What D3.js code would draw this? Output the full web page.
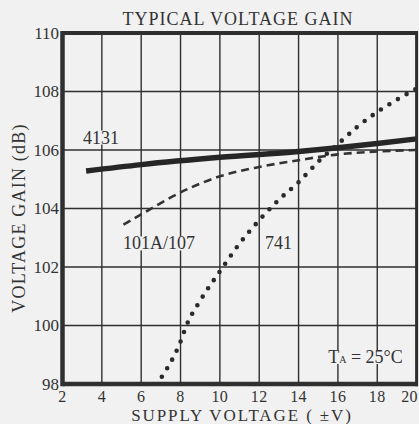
<!DOCTYPE html>
<html><head><meta charset="utf-8">
<script src="https://cdn.jsdelivr.net/npm/d3@7"></script>
<style>
html,body{margin:0;padding:0;background:#f1f1f1;}
svg{display:block;}
text{font-family:"Liberation Serif","DejaVu Serif",serif;fill:#333;}
</style></head>
<body>
<script>
const xTicks = [2,4,6,8,10,12,14,16,18,20];
const yTicks = [98,100,102,104,106,108,110];
const s4131 = [[3.2,105.28],[6,105.5],[10,105.75],[14,105.95],[16,106.08],[18,106.22],[20,106.38]];
const s101A = [[5.1,103.45],[6,103.8],[8,104.55],[10,105.1],[12,105.42],[14,105.65],[16,105.85],[18,105.95],[20,106.0]];
const s741 = [[7.05,98.25],[8,99.45],[8.3,100],[9,100.85],[10,101.85],[11,102.8],[12,103.6],[13,104.3],[14,104.9],[15,105.6],[16,106.2],[17,106.8],[18,107.3],[19,107.72],[20,108.1]];
const labels = [{t:"4131",x:3.04,y:106.22},{t:"101A/107",x:5.08,y:102.6},{t:"741",x:12.3,y:102.6}];

const W=419,H=424;
const svg=d3.select("body").append("svg").attr("width",W).attr("height",H);
const x=d3.scaleLinear().domain([2,20]).range([62.5,416.6]);
const y=d3.scaleLinear().domain([98,110]).range([384,33]);
const col="#2f2f2f";

// grid
svg.append("g").selectAll("line").data(xTicks.slice(1,-1)).join("line")
  .attr("x1",d=>x(d)).attr("x2",d=>x(d)).attr("y1",y(110)).attr("y2",y(98))
  .attr("stroke",col).attr("stroke-width",1.4);
svg.append("g").selectAll("line").data(yTicks.slice(1,-1)).join("line")
  .attr("x1",x(2)).attr("x2",x(20)).attr("y1",d=>y(d)).attr("y2",d=>y(d))
  .attr("stroke",col).attr("stroke-width",1.4);

// label boxes (mask grid)
const bg="#f1f1f1";
const TA = svg.append("text").attr("x",x(19.3)).attr("y",363).attr("text-anchor","end").attr("font-size",18);
TA.append("tspan").text("T");
TA.append("tspan").attr("font-size",10).text("A");
TA.append("tspan").text(" = 25°C");
const bb=TA.node().getBBox();
svg.insert("rect","text").attr("x",bb.x-2).attr("y",bb.y+3).attr("width",bb.width+4).attr("height",bb.height-6).attr("fill",bg);

labels.forEach(l=>{
  const t=svg.append("text").attr("x",x(l.x)).attr("y",y(l.y)).attr("font-size",18).text(l.t);
  const b=t.node().getBBox();
  svg.insert("rect","text").attr("x",b.x-1).attr("y",b.y+3).attr("width",b.width+2).attr("height",b.height-6).attr("fill",bg);
});

// curves
const line=d3.line().x(d=>x(d[0])).y(d=>y(d[1])).curve(d3.curveMonotoneX);
svg.append("path").attr("d",line(s4131)).attr("fill","none").attr("stroke","#262626").attr("stroke-width",5.5);
svg.append("path").attr("d",line(s101A)).attr("fill","none").attr("stroke","#333").attr("stroke-width",2.6).attr("stroke-dasharray","8,5");
svg.append("path").attr("d",line(s741)).attr("fill","none").attr("stroke","#2a2a2a").attr("stroke-width",4.6).attr("stroke-linecap","round").attr("stroke-dasharray","0,10");

// frame
svg.append("line").attr("x1",x(2)).attr("x2",x(20)+1).attr("y1",y(110)).attr("y2",y(110)).attr("stroke",col).attr("stroke-width",4);
svg.append("line").attr("x1",x(2)).attr("x2",x(20)+1).attr("y1",y(98)).attr("y2",y(98)).attr("stroke",col).attr("stroke-width",4.5);
svg.append("line").attr("x1",x(2)).attr("x2",x(2)).attr("y1",y(110)-2).attr("y2",y(98)+2.2).attr("stroke",col).attr("stroke-width",4.5);
svg.append("line").attr("x1",x(20)).attr("x2",x(20)).attr("y1",y(110)-2).attr("y2",y(98)+2.2).attr("stroke",col).attr("stroke-width",3);

// axes labels
svg.append("g").selectAll("text").data(yTicks).join("text")
  .attr("x",59).attr("y",d=>y(d)).attr("dy","0.34em").attr("text-anchor","end").attr("font-size",17).text(d=>d);
svg.append("g").selectAll("text").data(xTicks).join("text")
  .attr("x",d=>d===20?418:x(d)).attr("y",401.5).attr("text-anchor",d=>d===20?"end":"middle").attr("font-size",16).attr("letter-spacing",0.4).text(d=>d);

svg.append("text").attr("x",238).attr("y",25).attr("text-anchor","middle").attr("font-size",18).attr("letter-spacing",1).text("TYPICAL VOLTAGE GAIN");
svg.append("text").attr("x",242).attr("y",421).attr("text-anchor","middle").attr("font-size",17).attr("letter-spacing",1.9).text("SUPPLY VOLTAGE ( ±V)");
svg.append("text").attr("transform","translate(25,218) rotate(-90)").attr("text-anchor","middle").attr("font-size",18).attr("letter-spacing",1.2).text("VOLTAGE GAIN (dB)");
</script>
</body></html>
